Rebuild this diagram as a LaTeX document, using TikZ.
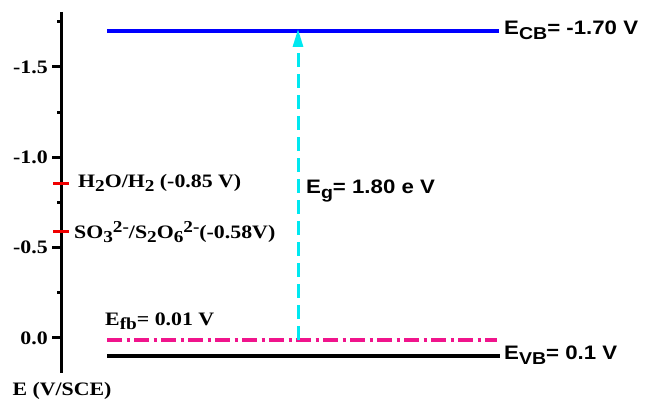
\documentclass[tikz,border=0pt]{standalone}
\usepackage{fontspec}
\setmainfont{Liberation Serif}
\newfontfamily\arialb[FakeStretch=1.14]{Liberation Sans}
\newfontfamily\timesb[FakeStretch=1.15]{Liberation Serif}
\usetikzlibrary{arrows.meta}
\definecolor{cbblue}{RGB}{0,0,255}
\definecolor{fbpink}{RGB}{240,20,140}
\definecolor{egcyan}{RGB}{0,232,240}
\definecolor{redoxred}{RGB}{240,0,0}
\newcommand{\lo}[1]{\raisebox{-0.5ex}{\scalebox{0.88}{#1}}}
\newcommand{\hi}[1]{\raisebox{0.75ex}{\scalebox{0.88}{#1}}}

\begin{document}
\begin{tikzpicture}[x=1pt, y=-1pt, >={Triangle[length=18pt,width=10pt]},
  lvl/.style={line width=3.5pt},
  tlab/.style={font=\timesb\bfseries\fontsize{19}{19}\selectfont, inner sep=0pt},
  alab/.style={font=\arialb\bfseries\fontsize{19.5}{19.5}\selectfont, inner sep=0pt}]
  \useasboundingbox (0,0) rectangle (648,403);

  % potential axis
  \draw[line width=3pt] (61,12) -- (61,373);
  \foreach \v in {-1.5,-1.0,-0.5,0.0} {
    \draw[line width=3pt] (52,{338+180.7*\v}) -- (61,{338+180.7*\v});
    \node[tlab, anchor=east] (t\v) at (48,{338+180.7*\v}) {\v};
  }
  \foreach \v in {-1.75,-1.25,-0.75,-0.25}
    \draw[line width=3pt] (57,{338+180.7*\v}) -- (61,{338+180.7*\v});
  \node[tlab] (axlab) at (62,391) {E (V/SCE)};

  % redox potentials
  \draw[redoxred, line width=3pt] (53,184) -- (69,184);
  \draw[redoxred, line width=3pt] (53,232) -- (69,232);
  \node[tlab, anchor=west] (h2o) at (78,183) {H\lo{2}O/H\lo{2} (-0.85 V)};
  \node[tlab, anchor=west] (so3) at (74,232) {SO\lo{3}\hi{2-}/S\lo{2}O\lo{6}\hi{2-}(-0.58V)};

  % band levels
  \coordinate (cbL) at (107,31);
  \coordinate (cbR) at (499,31);
  \coordinate (fbL) at (107,340);
  \coordinate (fbR) at (497,340);
  \coordinate (vbL) at (107,356);
  \coordinate (vbR) at (500,356);
  \draw[lvl, cbblue] (cbL) -- (cbR);
  \draw[lvl, fbpink, dash pattern=on 15pt off 4.5pt on 3pt off 4.5pt] (fbL) -- (fbR);
  \draw[lvl] (vbL) -- (vbR);
  \node[alab, anchor=west] (cb) at (504,30) {E\lo{CB}= -1.70 V};
  \node[alab, anchor=west] (vb) at (504,355) {E\lo{VB}= 0.1 V};
  \node[tlab, anchor=west] (fb) at (105,321) {E\lo{fb}= 0.01 V};

  % band gap
  \coordinate (eg0) at (298,340);
  \coordinate (eg1) at (298,29);
  \draw[->, egcyan, line width=3pt, dash pattern=on 14pt off 7pt] (eg0) -- (eg1);
  \node[alab, anchor=west] (eg) at (306,191) {E\lo{g}= 1.80 e V};
\end{tikzpicture}
\end{document}
